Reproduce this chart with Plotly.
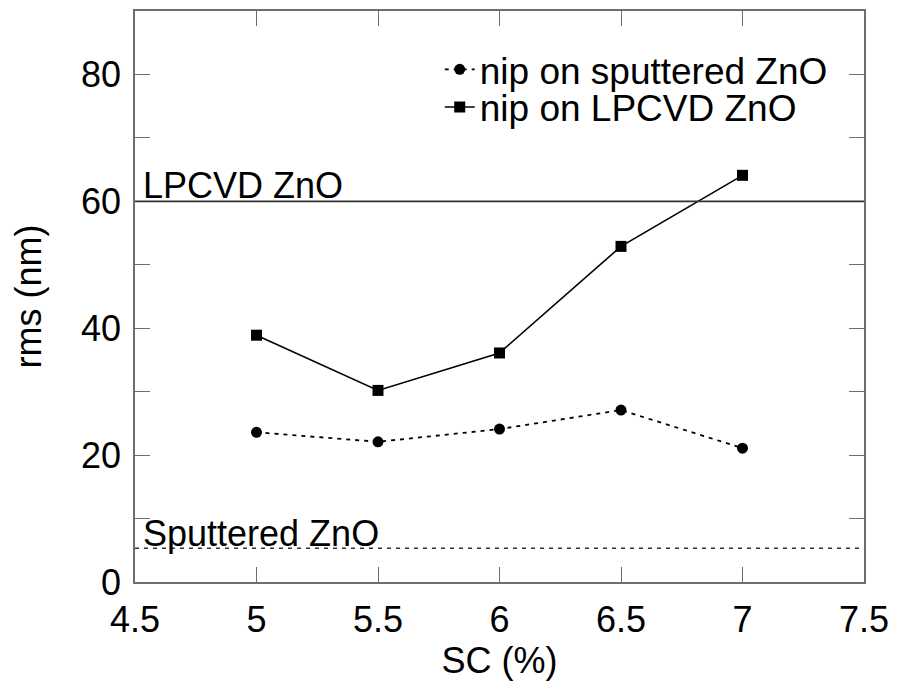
import plotly.graph_objects as go

# Surface roughness of nip cells versus SC
sc = [5.0, 5.5, 6.0, 6.5, 7.0]
rms_nip_sputtered = [23.6, 22.1, 24.1, 27.1, 21.1]
rms_nip_lpcvd = [38.9, 30.2, 36.1, 52.9, 64.1]

# Bare substrate roughness references
ref_lpcvd = 60.0
ref_sputtered = 5.3

x_ticks = [4.5, 5.0, 5.5, 6.0, 6.5, 7.0, 7.5]
x_labels = ["4.5", "5", "5.5", "6", "6.5", "7", "7.5"]
y_ticks = [0, 10, 20, 30, 40, 50, 60, 70, 80]
y_labels = ["0", "", "20", "", "40", "", "60", "", "80"]

FONT = "Liberation Sans, Arial, sans-serif"
AXIS_GREY = "#6e6e6e"

fig = go.Figure()

fig.add_trace(go.Scatter(
    x=sc, y=rms_nip_sputtered, mode="lines+markers",
    name="nip on sputtered ZnO", legend="legend",
    line=dict(color="black", width=1.8, dash="4px,5px"),
    marker=dict(symbol="circle", size=11, color="black"),
))
fig.add_trace(go.Scatter(
    x=sc, y=rms_nip_lpcvd, mode="lines+markers",
    name="nip on LPCVD ZnO", legend="legend2",
    line=dict(color="black", width=1.6),
    marker=dict(symbol="square", size=11, color="black"),
))

# Reference levels of the bare substrates
fig.add_hline(y=ref_lpcvd, line=dict(color="#333333", width=1.6))
fig.add_hline(y=ref_sputtered, line=dict(color="#333333", width=1.5, dash="4px,5px"))

fig.add_annotation(x=x_ticks[0], y=ref_lpcvd, xref="x", yref="y",
                   text="LPCVD ZnO", showarrow=False,
                   xanchor="left", yanchor="bottom", xshift=6, yshift=-7,
                   font=dict(family=FONT, size=36, color="black"))
fig.add_annotation(x=x_ticks[0], y=ref_sputtered, xref="x", yref="y",
                   text="Sputtered ZnO", showarrow=False,
                   xanchor="left", yanchor="bottom", xshift=6, yshift=-8,
                   font=dict(family=FONT, size=36, color="black"))

axis_common = dict(
    showline=True, linecolor=AXIS_GREY, linewidth=1.5, mirror="ticks",
    ticks="inside", ticklen=15, tickwidth=1.3, tickcolor=AXIS_GREY,
    showgrid=False, zeroline=False,
    tickfont=dict(family=FONT, size=36, color="black"),
)

fig.update_xaxes(range=[4.5, 7.5], tickmode="array", tickvals=x_ticks,
                 ticktext=x_labels, ticklabelstandoff=5,
                 title=dict(text="SC (%)", font=dict(family=FONT, size=36, color="black"),
                            standoff=8),
                 **axis_common)
fig.update_yaxes(range=[0, 90], tickmode="array", tickvals=y_ticks,
                 ticktext=y_labels, ticklabelstandoff=5,
                 title=dict(text="rms (nm)", font=dict(family=FONT, size=36, color="black"),
                            standoff=28),
                 **axis_common)

legend_common = dict(xanchor="left", yanchor="middle", bgcolor="rgba(0,0,0,0)",
                     font=dict(family=FONT, size=37, color="black"))

fig.update_layout(
    width=898, height=686,
    margin=dict(l=135, r=30, t=9, b=104),
    paper_bgcolor="white", plot_bgcolor="white",
    showlegend=True,
    legend=dict(x=0.418, y=0.897, **legend_common),
    legend2=dict(x=0.418, y=0.831, **legend_common),
)

fig.write_html("out.html")
